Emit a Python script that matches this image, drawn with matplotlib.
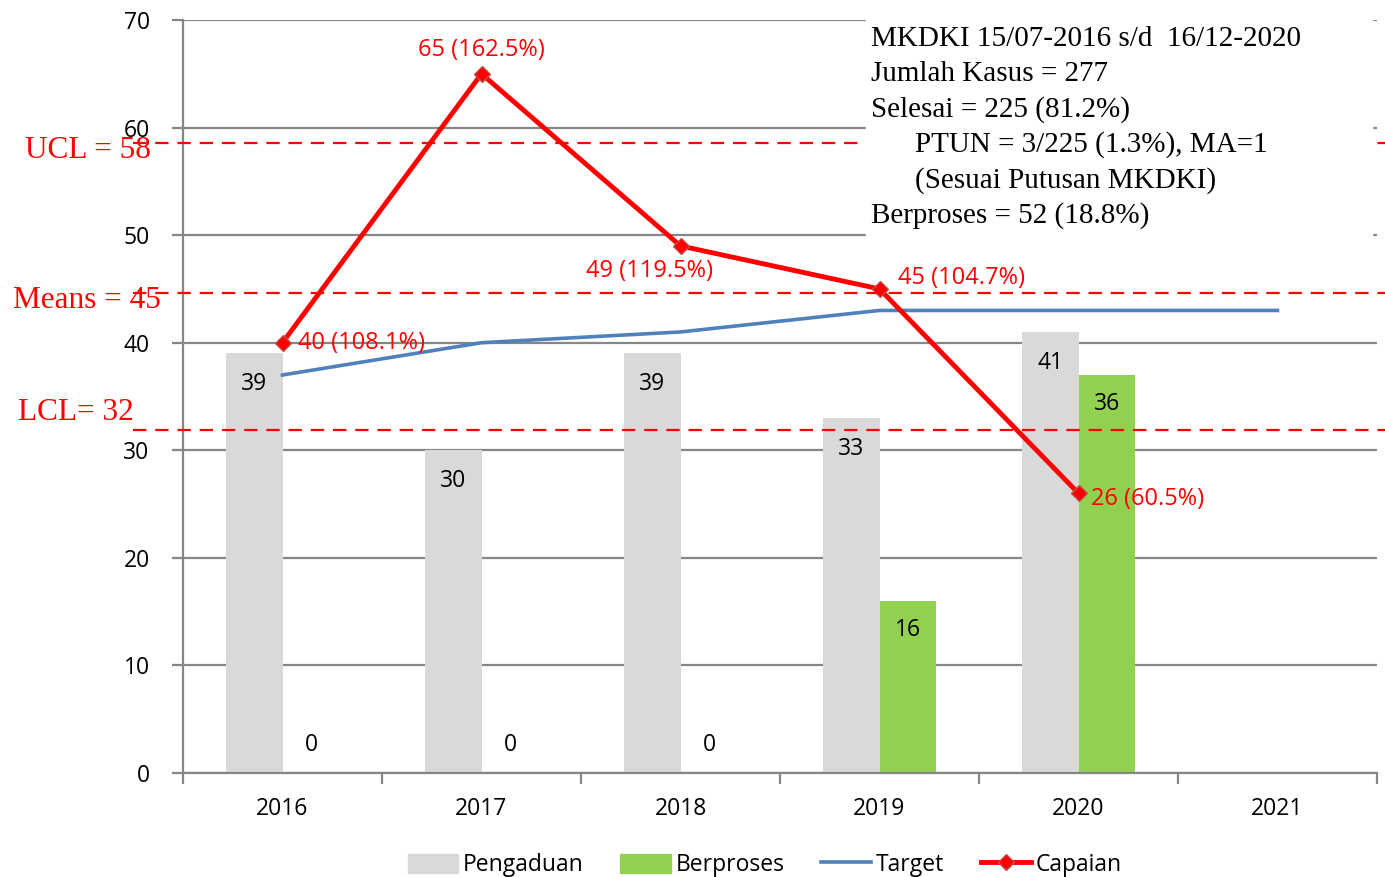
import numpy as np
import matplotlib.pyplot as plt
from matplotlib.lines import Line2D
from matplotlib.patches import Patch

# data
years = ['2016', '2017', '2018', '2019', '2020', '2021']
pengaduan = [39, 30, 39, 33, 41]
berproses = [0, 0, 0, 16, 37]
berproses_labels = ['0', '0', '0', '16', '36']
target = [37, 40, 41, 43, 43, 43]
capaian = [40, 65, 49, 45, 26]
capaian_labels = ['40 (108.1%)', '65 (162.5%)', '49 (119.5%)', '45 (104.7%)', '26 (60.5%)']
control_values = [58.6, 44.6, 31.9]
control_labels = ['UCL = 58', 'Means = 45', 'LCL= 32']
info_lines = ['MKDKI 15/07-2016 s/d  16/12-2020',
              'Jumlah Kasus = 277',
              'Selesai = 225 (81.2%)',
              'PTUN = 3/225 (1.3%), MA=1',
              '(Sesuai Putusan MKDKI)',
              'Berproses = 52 (18.8%)']
info_indent = [0, 0, 0, 1, 1, 0]

SANS = 'Open Sans'
SERIF = 'Liberation Serif'
plt.rcParams['font.family'] = [SANS, 'DejaVu Sans']

W, H = 1385, 877
fig = plt.figure(figsize=(W / 100, H / 100), dpi=100)
ax = fig.add_axes([183 / W, 1 - 773 / H, (1377 - 183) / W, (773 - 20) / H])

x = np.arange(len(years))
bw = 0.286
n = len(pengaduan)

ax.bar(x[:n] - bw / 2, pengaduan, bw, color='#D9D9D9', zorder=2)
ax.bar(x[:n] + bw / 2, berproses, bw, color='#92D050', zorder=2)

lbl_size = 16.5
for i in range(n):
    ax.annotate(str(pengaduan[i]), (x[i] - bw / 2, pengaduan[i]), xytext=(0, -22),
                textcoords='offset points', ha='center', va='center', fontsize=lbl_size)
    ax.annotate(berproses_labels[i], (x[i] + bw / 2, berproses[i]), xytext=(0, -21 if berproses[i] > 0 else 20),
                textcoords='offset points', ha='center', va='center', fontsize=lbl_size)

ax.plot(x, target, color='#4F81BD', lw=2.6, zorder=3)
ax.plot(x[:n], capaian, color='#FF0000', lw=3.5, marker='D', ms=8,
        mfc='#FF0000', mec='#C0504D', zorder=4)

offsets = [(11, 0, 'left'), (0, 17, 'center'), (-22, -18, 'center'), (13, 8, 'left'), (9, -4, 'left')]
for i in range(n):
    dx, dy, ha = offsets[i]
    ax.annotate(capaian_labels[i], (x[i], capaian[i]), xytext=(dx, dy), textcoords='offset points',
                ha=ha, va='center', color='#FF0000', fontsize=17, zorder=6)

ax.set_xlim(-0.5, 5.5)
ax.set_ylim(0, 70)
ax.set_yticks(np.arange(0, 71, 10))
ax.yaxis.grid(True, color='#868686', lw=1.6, zorder=0)
ax.set_axisbelow(True)
ax.set_xticks(np.arange(-0.5, 5.6, 1))
ax.set_xticklabels([])
ax.set_xticks(x, minor=True)
ax.set_xticklabels(years, minor=True)
ax.tick_params(axis='x', which='minor', length=0, pad=17, labelsize=lbl_size)
ax.tick_params(axis='x', which='major', length=8, width=1.6, color='#868686')
ax.tick_params(axis='y', length=8, width=1.6, color='#868686', pad=16, labelsize=lbl_size)
for s in ['top', 'right']:
    ax.spines[s].set_visible(False)
for s in ['left', 'bottom']:
    ax.spines[s].set_color('#868686')
    ax.spines[s].set_linewidth(1.6)

# control lines drawn across the figure
x0 = (133 - 183) / (1377 - 183)
x1 = (1385 - 183) / (1377 - 183)
for v in control_values:
    ax.axhline(v, xmin=x0, xmax=x1, color='#FF0000', lw=1.6, dashes=(6, 4), clip_on=False, zorder=5)
label_pos = [(25, 150), (13, 300), (18, 412)]
for (px, py), t in zip(label_pos, control_labels):
    fig.text(px / W, 1 - py / H, t, family=SERIF, color='#FF0000', fontsize=22.5, ha='left', va='center')

# info box
fig.patches.append(plt.Rectangle((866 / W, 1 - 245 / H), (1372 - 866) / W, (245 - 12) / H,
                                 transform=fig.transFigure, color='white', zorder=3))
for k, t in enumerate(info_lines):
    fig.text((871 + 44 * info_indent[k]) / W, 1 - (39 + 35.3 * k) / H, t, family=SERIF, fontsize=21,
             ha='left', va='center', zorder=4)

handles = [Patch(color='#D9D9D9'), Patch(color='#92D050'),
           Line2D([], [], color='#4F81BD', lw=2.6),
           Line2D([], [], color='#FF0000', lw=3.5, marker='D', ms=8, mfc='#FF0000', mec='#C0504D')]
fig.legend(handles, ['Pengaduan', 'Berproses', 'Target', 'Capaian'], loc='center',
           bbox_to_anchor=(765 / W, 1 - 865 / H), ncol=4, frameon=False, fontsize=lbl_size,
           handlelength=2.2, handletextpad=0.2, columnspacing=1.6, handleheight=0.9)

fig.savefig('out.png', dpi=100)
